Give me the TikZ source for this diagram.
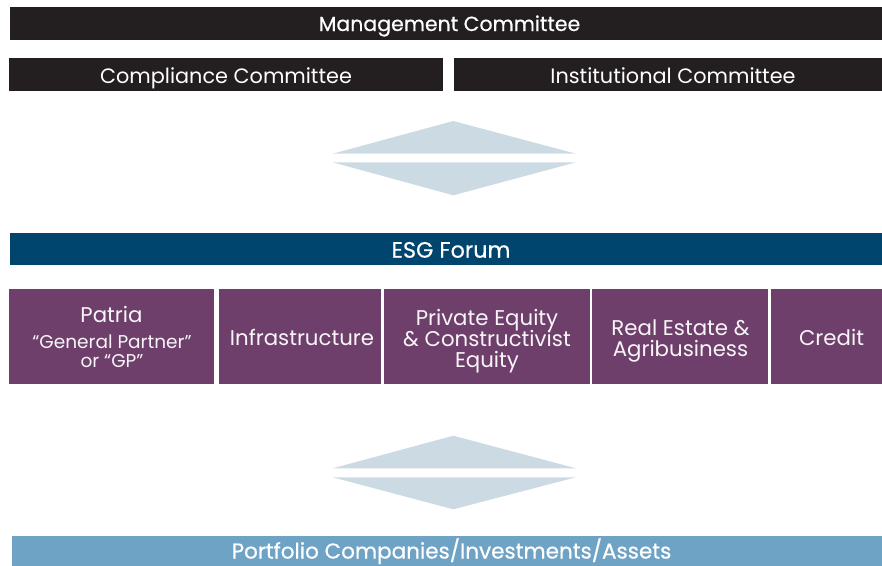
\documentclass[tikz,border=0pt]{standalone}
\usepackage{fontspec}
\setmainfont{Poppins}
\newfontfamily\medfont[FakeBold=0.5]{Poppins}
\definecolor{barblack}{HTML}{231F20}
\definecolor{forumblue}{HTML}{00456E}
\definecolor{unitpurple}{HTML}{6E3F6B}
\definecolor{flowgrey}{HTML}{CCDBE3}
\definecolor{assetblue}{HTML}{6FA3C5}
\begin{document}
\begin{tikzpicture}[x=1pt,y=-1pt,
  box/.style={inner sep=0pt, outer sep=0pt, draw=none},
  lbl/.style={inner sep=0pt, outer sep=0pt, anchor=base, text=white},
  headfont/.style={font=\medfont\fontsize{20.5}{22}\selectfont},
  cmtfont/.style={font=\fontsize{20.8}{22}\selectfont},
  unittext/.style={lbl, text=white!95!unitpurple, font=\fontsize{21.3}{22}\selectfont},
  smalltext/.style={lbl, text=white!95!unitpurple, font=\fontsize{18.5}{20}\selectfont},
  unit/.style={box, fill=unitpurple, minimum height=95pt},
  flow/.style={fill=flowgrey, draw=none}]
\clip (0,0) rectangle (882,565);
\useasboundingbox (0,0) rectangle (882,565);

% committees
\node[box, fill=barblack, minimum width=872pt, minimum height=33pt] (mgmt) at (446,23.8) {};
\node[lbl, headfont] (mgmtT) at (449.5,31) {Management Committee};
\node[box, fill=barblack, minimum width=434pt, minimum height=32.4pt] (comp) at (226,74.5) {};
\node[lbl, cmtfont] (compT) at (226,83) {Compliance Committee};
\node[box, fill=barblack, minimum width=428pt, minimum height=32.4pt] (inst) at (668,74.5) {};
\node[lbl, cmtfont] (instT) at (673,83) {Institutional Committee};

% two-way flow between committees and forum
\fill[flow] (332.7,153.7) -- (453.3,121) -- (576,153.7) -- cycle;
\fill[flow] (332.7,162.3) -- (576,162.3) -- (453.3,195.3) -- cycle;

% forum
\node[box, fill=forumblue, minimum width=872pt, minimum height=32.3pt] (esg) at (446,248.9) {};
\node[lbl, font=\medfont\fontsize{22.3}{24}\selectfont] (esgT) at (451,257.7) {ESG Forum};

% business units
\node[unit, minimum width=204.4pt] (gp) at (111.5,336.5) {};
\node[unittext] (gp1) at (111.5,322) {Patria};
\node[smalltext] (gp2) at (112,348) {“General Partner”};
\node[smalltext] (gp3) at (112,367) {or “GP”};

\node[unit, minimum width=162pt] (infra) at (300,336.5) {};
\node[unittext] (infraT) at (302,345.7) {Infrastructure};

\node[unit, minimum width=206pt] (pe) at (486.7,336.5) {};
\node[unittext] (pe1) at (487,325) {Private Equity};
\node[unittext] (pe2) at (487,346) {\& Constructivist};
\node[unittext] (pe3) at (487,367) {Equity};

\node[unit, minimum width=176pt] (re) at (680.3,336.5) {};
\node[unittext] (re1) at (680.5,335) {Real Estate \&};
\node[unittext] (re2) at (680.5,356) {Agribusiness};

\node[unit, minimum width=111pt] (credit) at (826.5,336.5) {};
\node[unittext] (creditT) at (831.5,345.7) {Credit};

% two-way flow between units and portfolio
\fill[flow] (332.7,468.3) -- (453.3,435.7) -- (576,468.3) -- cycle;
\fill[flow] (332.7,477.3) -- (576,477.3) -- (453.3,509.3) -- cycle;

% portfolio
\node[box, fill=assetblue, minimum width=870pt, minimum height=40pt] (port) at (447,556) {};
\node[lbl, font=\medfont\fontsize{21.5}{23}\selectfont] (portT) at (451.5,558.5) {Portfolio Companies/Investments/Assets};
\end{tikzpicture}
\end{document}
